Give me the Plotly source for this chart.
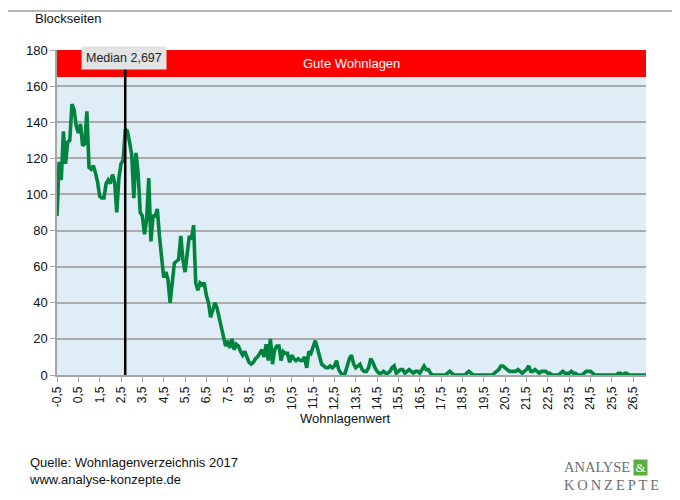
import plotly.graph_objects as go

# Blockseiten per Wohnlagenwert, categories from -0,5 in steps of 0,1
rows = [
    [88, 118, 108, 135, 117, 129, 130, 150, 147, 138],   # -0.5 .. 0.4
    [134, 139, 127, 128, 146, 115, 114, 116, 112, 107],  # 0.5 .. 1.4
    [99, 98, 98, 106, 108, 106, 111, 107, 90, 109],      # 1.5 .. 2.4
    [117, 119, 136, 135, 129, 122, 98, 123, 112, 90],    # 2.5 .. 3.4
    [88, 78, 86, 109, 74, 88, 88, 92, 77, 66],           # 3.5 .. 4.4
    [54, 57, 53, 40, 51, 62, 63, 64, 77, 64],            # 4.5 .. 5.4
    [57, 67, 77, 75, 83, 51, 47, 51, 50, 51],            # 5.5 .. 6.4
    [44, 40, 32, 36, 40, 37, 32, 26, 21, 16],            # 6.5 .. 7.4
    [19, 15, 20, 14, 17, 16, 13, 11, 13, 10],            # 7.5 .. 8.4
    [7, 6, 7, 9, 10, 12, 14, 10, 17, 8],                 # 8.5 .. 9.4
    [20, 6, 14, 16, 16, 8, 13, 12, 12, 7],               # 9.5 .. 10.4
    [11, 9, 8, 9, 8, 8, 10, 4, 13, 12],                  # 10.5 .. 11.4
    [16, 19, 15, 10, 6, 5, 4, 4, 5, 4],                  # 11.5 .. 12.4
    [5, 8, 3, 1, 0, 1, 5, 9, 11, 6],                     # 12.5 .. 13.4
    [4, 5, 6, 3, 2, 2, 4, 9, 7, 4],                      # 13.5 .. 14.4
    [2, 1, 1, 2, 1, 1, 2, 4, 5, 1],                      # 14.5 .. 15.4
    [2, 3, 3, 1, 2, 3, 2, 1, 2, 2],                      # 15.5 .. 16.4
    [1, 3, 5, 3, 3, 1, 0, 0, 0, 0],                      # 16.5 .. 17.4
    [0, 0, 0, 1, 2, 1, 0, 0, 0, 0],                      # 17.5 .. 18.4
    [0, 0, 1, 2, 1, 0, 0, 0, 0, 0],                      # 18.5 .. 19.4
    [0, 0, 0, 0, 0, 1, 2, 3, 5, 5],                      # 19.5 .. 20.4
    [4, 3, 2, 2, 2, 2, 3, 2, 1, 2],                      # 20.5 .. 21.4
    [3, 5, 2, 2, 3, 2, 1, 2, 2, 2],                      # 21.5 .. 22.4
    [1, 1, 0, 0, 0, 0, 1, 2, 1, 1],                      # 22.5 .. 23.4
    [1, 2, 1, 1, 0, 0, 0, 1, 2, 2],                      # 23.5 .. 24.4
    [2, 1, 0, 0, 0, 0, 0, 0, 0, 0],                      # 24.5 .. 25.4
    [0, 0, 0, 1, 1, 0, 1, 1, 0, 0],                      # 25.5 .. 26.4
    [0, 0, 0, 0, 0, 0, 0],                               # 26.5 .. 27.1
]
blockseiten = [v for r in rows for v in r]
wohnlagenwert = [round(-0.5 + 0.1 * i, 1) for i in range(len(blockseiten))]

tick_values = [k - 0.5 for k in range(28)]
tick_labels = [("%.1f" % t).replace(".", ",") for t in tick_values]

median_value = 2.697
median_label = "Median 2,697"
good_band = (165, 180)
good_label = "Gute Wohnlagen"

FONT = "Liberation Sans, Arial, sans-serif"
SERIF = "Liberation Serif, Times New Roman, serif"

# page offset (body margin) and plot area pixel geometry in page coords
OFF = 8
FW, FH = 680 - OFF, 500 - OFF
L, R, T, B = 57, 646, 50, 375
W, H = R - L, B - T
def px(x):
    return (x - L) / W
def py(y):
    return (B - y) / H

fig = go.Figure()
fig.add_trace(go.Scatter(
    x=wohnlagenwert, y=blockseiten, mode="lines",
    line=dict(color="#00843F", width=3.6),
    hoverinfo="x+y", showlegend=False,
))

fig.add_shape(type="rect", xref="paper", yref="y", x0=0, x1=1,
              y0=good_band[0], y1=good_band[1], fillcolor="#FF0000",
              line=dict(width=0), layer="above")
fig.add_shape(type="line", xref="x", yref="y", x0=median_value, x1=median_value,
              y0=0, y1=182, line=dict(color="#000000", width=2.5), layer="above")

# outer border (top and right visible)
fig.add_shape(type="rect", xref="paper", yref="paper",
              x0=px(-5), x1=px(676), y0=py(510), y1=py(11),
              line=dict(color="#A0A0A0", width=1.5), fillcolor="rgba(0,0,0,0)")

def note(text, x, y, xanchor="center", **kw):
    d = dict(text=text, x=px(x), y=py(y), xref="paper", yref="paper",
             xanchor=xanchor, yanchor="middle", showarrow=False)
    d.update(kw)
    return d

TS = "\u2009"
ann = [
    dict(text=good_label, x=0.5, y=(good_band[0] + good_band[1]) / 2,
         xref="paper", yref="y", xanchor="center", yanchor="middle", showarrow=False,
         font=dict(color="white", size=13, family=FONT)),
    note(median_label, 124, 58, bgcolor="#E3E3E3", borderpad=4,
         font=dict(color="#222222", size=12.5, family=FONT)),
    note("Blockseiten", 33, 18, xanchor="left",
         font=dict(color="#111111", size=13, family=FONT)),
    note("Wohnlagenwert", 345, 418,
         font=dict(color="#111111", size=13, family=FONT)),
    note("Quelle: Wohnlagenverzeichnis 2017<br>www.analyse-konzepte.de", 27, 471,
         xanchor="left", align="left",
         font=dict(color="#111111", size=13, family=FONT)),
    note("ANALYSE", 562, 467, xanchor="left",
         font=dict(color="#6E6E6E", size=14.5, family=SERIF)),
    note(TS.join("KONZEPTE"), 562, 485, xanchor="left",
         font=dict(color="#6E6E6E", size=14.5, family=SERIF)),
    note("&", 640, 467, bgcolor="#5BAE3C", borderpad=0, width=13, height=15,
         font=dict(color="white", size=13, family=SERIF)),
]

fig.update_layout(
    width=FW, height=FH,
    margin=dict(l=L - OFF, r=680 - R, t=T - OFF, b=500 - B),
    paper_bgcolor="white", plot_bgcolor="#DFEEF6",
    font=dict(family=FONT, color="#111111", size=12),
    annotations=ann,
    showlegend=False,
)
fig.update_xaxes(
    range=[-0.5, 27.1], tickmode="array", tickvals=tick_values, ticktext=tick_labels,
    tickangle=-90, ticks="outside", ticklen=5, tickcolor="#A6A6A6",
    showline=True, linecolor="#A6A6A6", linewidth=1.5, showgrid=False,
    zeroline=False, tickfont=dict(size=12, color="#111111"),
)
fig.update_yaxes(
    range=[0, 180], dtick=20, ticks="outside", ticklen=5, tickcolor="#A6A6A6",
    showline=True, linecolor="#A6A6A6", linewidth=1.5,
    showgrid=True, gridcolor="#ABABAB", gridwidth=1.5, zeroline=False,
    tickfont=dict(size=13, color="#111111"),
)

fig.write_html("out.html")
